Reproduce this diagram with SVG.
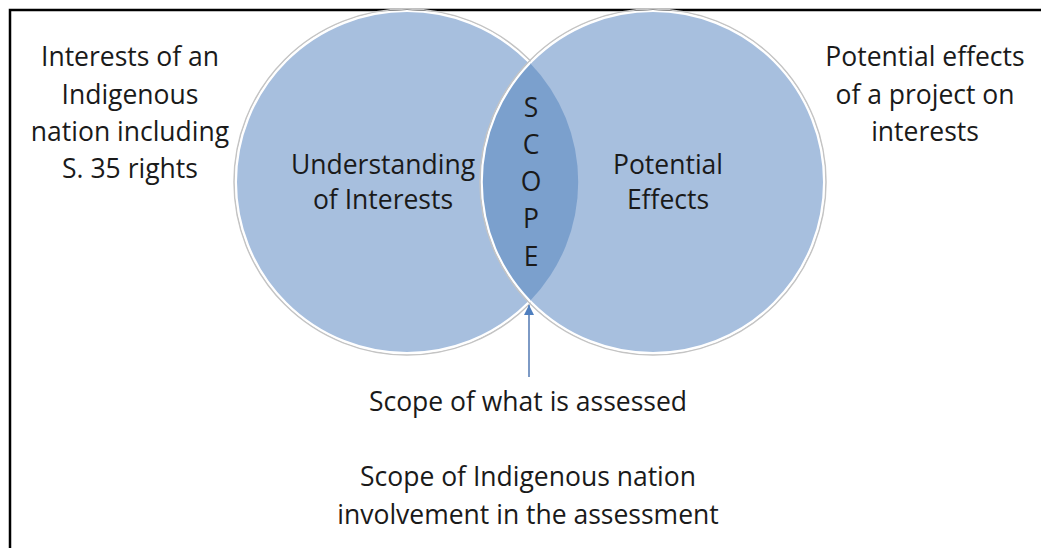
<svg xmlns="http://www.w3.org/2000/svg" width="1041" height="548" viewBox="0 0 1041 548">
<defs>
<style>
.t{font-family:"Open Sans","Liberation Sans",sans-serif;font-size:26.5px;fill:#1a1a1a;text-anchor:middle}
.c{fill:#a7bfde;stroke:#ffffff;stroke-width:2}
.sh{fill:none;stroke:#c4c4c4;stroke-width:1.5}
</style>
<marker id="ah" viewBox="0 0 10 10" refX="10" refY="5" markerWidth="10" markerHeight="10" orient="auto" markerUnits="userSpaceOnUse">
<path d="M0,0 L10,5 L0,10 Z" fill="#4f7fbf"/>
</marker>
</defs>
<rect width="1041" height="548" fill="#ffffff"/>
<path d="M10,548 L10,10 L1041,10" fill="none" stroke="#000" stroke-width="2.5"/>
<g id="interests-circle">
<circle class="sh" cx="407" cy="182" r="173"/>
<circle class="c" cx="407" cy="182" r="171"/>
<text class="t" x="383" y="174">Understanding</text>
<text class="t" x="383" y="209">of Interests</text>
</g>
<g id="effects-circle">
<circle class="sh" cx="653" cy="182" r="173"/>
<circle class="c" cx="653" cy="182" r="171"/>
<text class="t" x="668" y="174">Potential</text>
<text class="t" x="668" y="209">Effects</text>
</g>
<g id="scope">
<path d="M530,63 A171,171 0 0 1 530,301 A171,171 0 0 1 530,63 Z" fill="#7ba0cd"/>
<path d="M530,63 A171,171 0 0 0 530,301" fill="none" stroke="#ffffff" stroke-width="2"/>
<text class="t" x="531" y="117">S</text>
<text class="t" x="531" y="154">C</text>
<text class="t" x="531" y="191">O</text>
<text class="t" x="531" y="228">P</text>
<text class="t" x="531" y="266">E</text>
</g>
<g id="left-label">
<text class="t" x="130" y="66">Interests of an</text>
<text class="t" x="130" y="104">Indigenous</text>
<text class="t" x="130" y="141">nation including</text>
<text class="t" x="130" y="178">S. 35 rights</text>
</g>
<g id="right-label">
<text class="t" x="925" y="66">Potential effects</text>
<text class="t" x="925" y="104">of a project on</text>
<text class="t" x="925" y="141">interests</text>
</g>
<g id="assessed-label">
<text class="t" x="528" y="411">Scope of what is assessed</text>
</g>
<g id="involvement-label">
<text class="t" x="528" y="486">Scope of Indigenous nation</text>
<text class="t" x="528" y="524">involvement in the assessment</text>
</g>
<g id="connectors">
<line x1="529" y1="377" x2="529" y2="305" stroke="#6f8fbf" stroke-width="1.8" marker-end="url(#ah)"/>
</g>
</svg>
